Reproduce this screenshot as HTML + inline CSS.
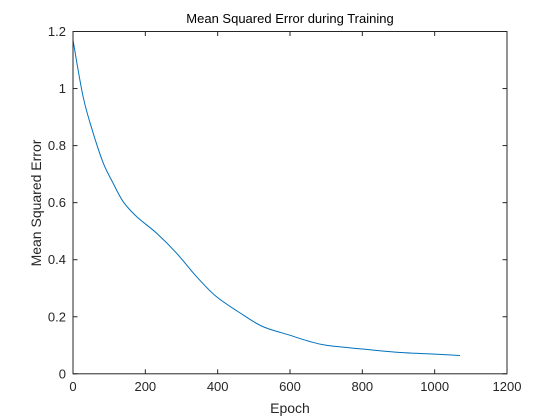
<!DOCTYPE html>
<html><head><meta charset="utf-8"><style>
body{margin:0;background:#fff;}
svg text{font-family:"Liberation Sans",sans-serif;}
</style></head><body>
<svg id="chart" width="560" height="420" xmlns="http://www.w3.org/2000/svg" style="background:#fff;display:block">
<rect x="73" y="31.5" width="434" height="342.3" fill="#fff"/>
<g id="ticks"></g>
<path id="line" fill="none" stroke="#0072BD" stroke-width="1" stroke-linejoin="round"/>
<rect x="73" y="31.5" width="434" height="342.3" fill="none" stroke="#262626" stroke-width="1"/>
<text x="290" y="23" text-anchor="middle" font-size="13" fill="#000">Mean Squared Error during Training</text>
<text x="290" y="413" text-anchor="middle" font-size="14" fill="#262626">Epoch</text>
<text transform="translate(41,203) rotate(-90)" text-anchor="middle" font-size="14" fill="#262626">Mean Squared Error</text>
</svg>
<script>
const epochs=[0,28,56,84,111,139,176,231,287,342,397,471,526,600,650,700,800,900,1000,1070];
const mse=[1.17,0.971,0.843,0.738,0.668,0.603,0.551,0.493,0.422,0.340,0.270,0.206,0.165,0.135,0.115,0.100,0.087,0.075,0.069,0.064];
const xTicks=[0,200,400,600,800,1000,1200];
const yTicks=[0,0.2,0.4,0.6,0.8,1,1.2];
const L=73,R=507,T=31.5,B=373.8;
const xs=v=>L+v/1200*(R-L);
const ys=v=>B-v/1.2*(B-T);
const NS="http://www.w3.org/2000/svg";
const g=document.getElementById('ticks');
function mk(tag,attrs){const e=document.createElementNS(NS,tag);for(const k in attrs)e.setAttribute(k,attrs[k]);g.appendChild(e);return e;}
xTicks.forEach(t=>{const x=xs(t);
 const a=mk('line',{x1:x,x2:x,y1:B,y2:B-4.5,stroke:'#262626'});
 
 
 const b=mk('line',{x1:x,x2:x,y1:T,y2:T+4.5,stroke:'#262626'});
 
 
 const tx=mk('text',{x:x,y:B+17,'text-anchor':'middle','font-size':'13',fill:'#262626'});
 tx.textContent=t;
 
 
});
yTicks.forEach(t=>{const y=ys(t);
 const a=mk('line',{x1:L,x2:L+4.5,y1:y,y2:y,stroke:'#262626'});
 
 
 const b=mk('line',{x1:R,x2:R-4.5,y1:y,y2:y,stroke:'#262626'});
 
 
 const tx=mk('text',{x:L-7,y:y+4.5,'text-anchor':'end','font-size':'13',fill:'#262626'});
 tx.textContent=String(t);
 
 
});
// smooth curve (Catmull-Rom) through data points
const P=epochs.map((e,i)=>[xs(e),ys(mse[i])]);
let d='M'+P[0][0].toFixed(2)+','+P[0][1].toFixed(2);
for(let i=0;i<P.length-1;i++){
 const p0=P[Math.max(i-1,0)],p1=P[i],p2=P[i+1],p3=P[Math.min(i+2,P.length-1)];
 const c1=[p1[0]+(p2[0]-p0[0])/6,p1[1]+(p2[1]-p0[1])/6];
 const c2=[p2[0]-(p3[0]-p1[0])/6,p2[1]-(p3[1]-p1[1])/6];
 d+='C'+c1.map(v=>v.toFixed(2)).join(',')+' '+c2.map(v=>v.toFixed(2)).join(',')+' '+p2.map(v=>v.toFixed(2)).join(',');
}
document.getElementById('line').setAttribute('d',d);
</script>
</body></html>
